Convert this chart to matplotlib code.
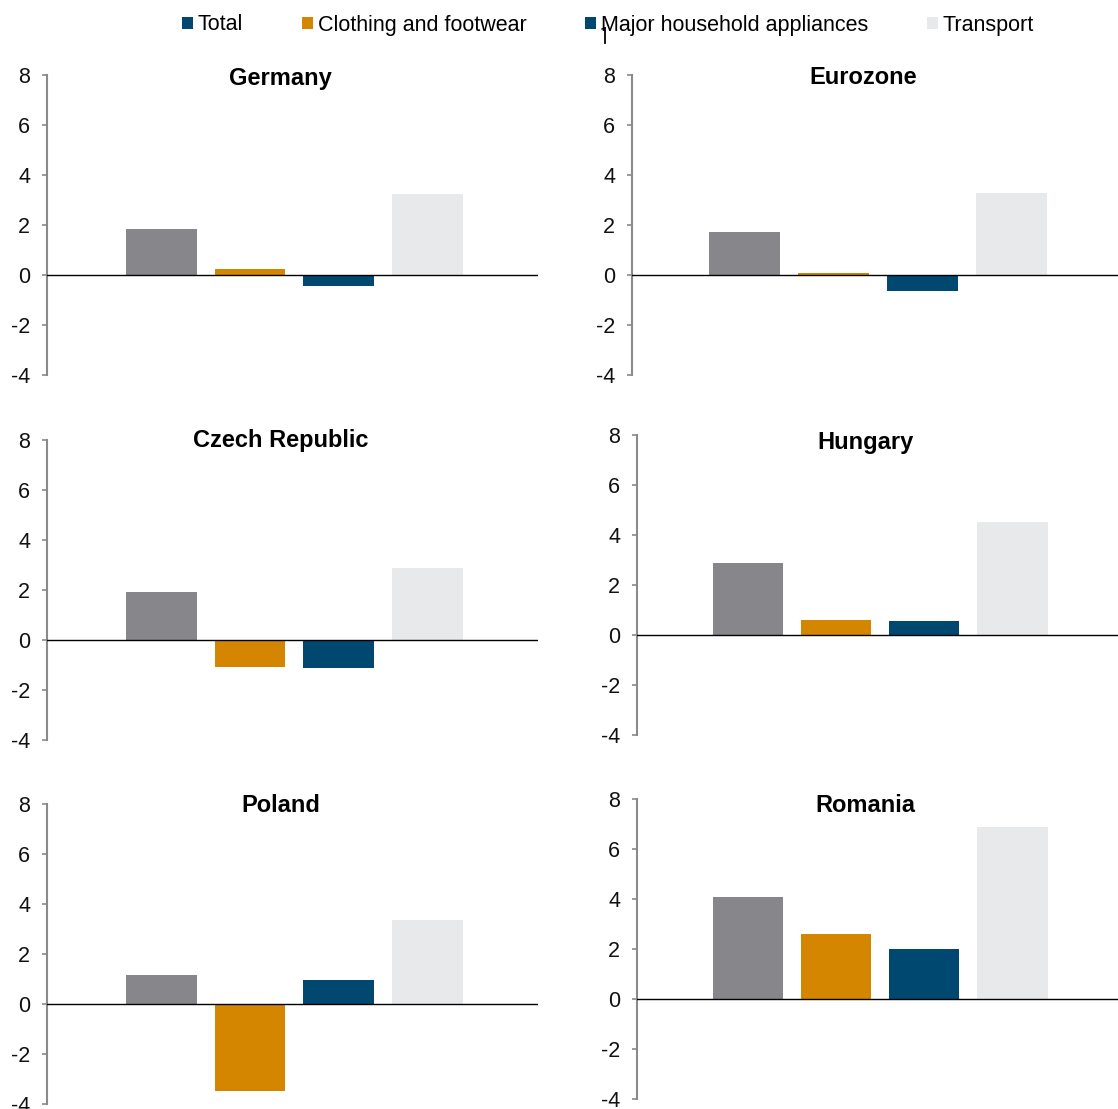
import matplotlib
matplotlib.use("Agg")
import matplotlib.pyplot as plt
from matplotlib.patches import Patch
from matplotlib.lines import Line2D

plt.rcParams["font.family"] = ["Liberation Sans", "DejaVu Sans"]
plt.rcParams["axes.unicode_minus"] = False

# Data
series = ["Total", "Clothing and footwear", "Major household appliances", "Transport"]
countries = ["Germany", "Eurozone", "Czech Republic", "Hungary", "Poland", "Romania"]
germany = [1.84, 0.25, -0.44, 3.24]
eurozone = [1.72, 0.09, -0.63, 3.28]
czech = [1.93, -1.07, -1.11, 2.89]
hungary = [2.88, 0.60, 0.56, 4.52]
poland = [1.17, -3.48, 0.96, 3.38]
romania = [4.09, 2.61, 2.01, 6.89]
values = [germany, eurozone, czech, hungary, poland, romania]
yticks = [-4, -2, 0, 2, 4, 6, 8]

bar_colors = ["#87868b", "#d48600", "#00486f", "#e8e9eb"]
legend_colors = ["#00486f", "#d48600", "#00486f", "#e8e9eb"]
spine_gray = "#8a8a8a"

W, H = 1118, 1109
fig = plt.figure(figsize=(W / 100, H / 100), dpi=100)

# panel boxes in pixels: (left, top, right, bottom)
boxes = [
    (47, 75, 538, 375),
    (632, 75, 1118, 375),
    (47, 440, 538, 740),
    (637, 435, 1118, 735),
    (47, 804, 538, 1104),
    (637, 799, 1118, 1099),
]
title_y = [78, 78, 441, 442, 806, 806]
xlims = [(-1.29, 4.25), (-1.26, 4.2)] * 3

x = list(range(len(series)))
for name, vals, (l, t, r, b), ty, xl in zip(countries, values, boxes, title_y, xlims):
    ax = fig.add_axes([l / W, 1 - b / H, (r - l) / W, (b - t) / H])
    ax.bar(x, vals, width=0.8, color=bar_colors, zorder=2)
    ax.axhline(0, color="black", lw=1.0, zorder=3)
    ax.set_ylim(-4, 8)
    ax.set_xlim(*xl)
    ax.set_yticks(yticks)
    ax.set_yticklabels([str(v) for v in yticks])
    ax.set_xticks([])
    for s in ("top", "right", "bottom"):
        ax.spines[s].set_visible(False)
    ax.spines["left"].set_color(spine_gray)
    ax.spines["left"].set_linewidth(1.5)
    ax.tick_params(axis="y", direction="out", length=3.8, width=1.2,
                   color=spine_gray, labelsize=15.5, pad=8.4, labelcolor="#111111")
    ax.patch.set_alpha(0)
    cx = (l + r) / 2 - 12
    fig.text(cx / W, 1 - ty / H, name, ha="center", va="center",
             fontsize=17, fontweight="bold", color="black")

handles = [Patch(facecolor=c, edgecolor="none") for c in legend_colors]
fig.legend(handles, series, loc="center left",
           bbox_to_anchor=(182 / W, 1 - 25 / H), ncol=4, frameon=False,
           fontsize=15.5, handlelength=0.52, handleheight=0.52,
           handletextpad=0.22, columnspacing=2.72, borderpad=0,
           borderaxespad=0)

# small vertical mark near the legend
fig.add_artist(Line2D([605 / W, 605 / W], [1 - 28 / H, 1 - 43 / H],
                      color="black", lw=1.3))
fig.add_artist(Line2D([602 / W, 605 / W], [1 - 29 / H, 1 - 28 / H],
                      color="black", lw=1.0))

fig.savefig("out.png", dpi=100)
